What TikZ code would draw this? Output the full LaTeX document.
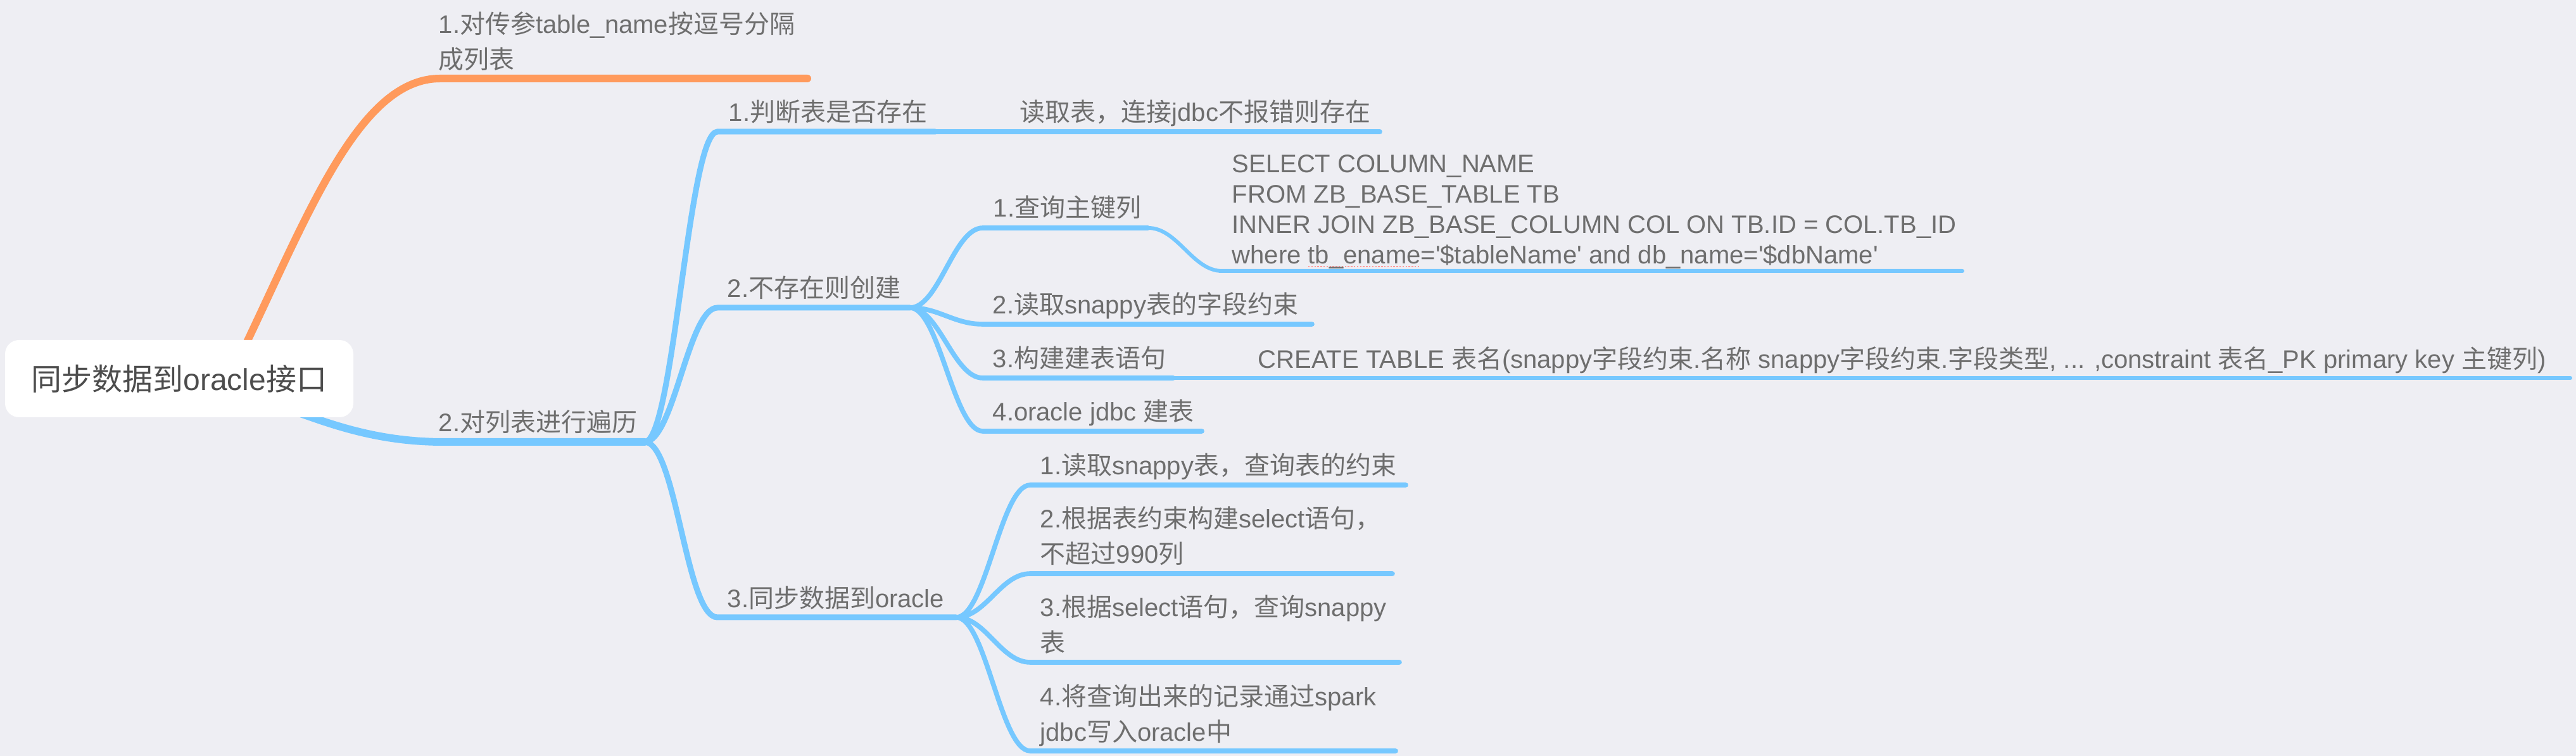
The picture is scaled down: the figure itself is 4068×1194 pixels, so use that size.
\documentclass[tikz,border=0pt]{standalone}
\usepackage{fontspec}
\setmainfont{Liberation Sans}
\newfontfamily\cjk{Noto Sans CJK SC}
\newcommand\zh[1]{{\cjk #1}}
\definecolor{bg}{HTML}{EEEEF3}
\definecolor{tgray}{HTML}{6E6E6E}
\definecolor{rootgray}{HTML}{4D4D4D}
\definecolor{blu}{HTML}{76C8FF}
\definecolor{orng}{HTML}{FF9A5C}
\definecolor{spellred}{HTML}{FF9C9C}
\begin{document}
\begin{tikzpicture}[x=0.25pt,y=-0.25pt,
  lbl/.style={anchor=south west,inner sep=0pt,text depth=0pt,align=left,text=tgray,font=\fontsize{10}{14}\selectfont},
  sqltext/.style={lbl,font=\fontsize{10}{12}\selectfont},
  rootbox/.style={fill=white,rounded corners=5.5pt,minimum width=137.5pt,minimum height=30.5pt,inner sep=0pt,text=rootgray,font=\fontsize{12}{14}\selectfont},
  wA/.style={line width=3pt,line cap=round},
  wB/.style={line width=2.25pt,line cap=round},
  wC/.style={line width=1.9pt,line cap=round},
  wD/.style={line width=1.5pt,line cap=round},
  spell/.style={spellred,line width=0.7pt,dash pattern=on 0.6pt off 0.6pt}]
\fill[bg] (0,0) rectangle (4068,1194);
\useasboundingbox (0,0) rectangle (4068,1194);
% coordinates
\coordinate (rootO) at (390,540);
\coordinate (rootB) at (450,645);
\coordinate (o1s) at (695,124);  \coordinate (o1e) at (1275,124);
\coordinate (b1s) at (700,698);  \coordinate (b1e) at (1018,698);
\coordinate (c1s) at (1133,208); \coordinate (c1e) at (1477,208); \coordinate (c1x) at (2179,208);
\coordinate (c2s) at (1133,486); \coordinate (c2e) at (1437,486);
\coordinate (c3s) at (1133,975); \coordinate (c3e) at (1510,975);
\coordinate (d1s) at (1552,360); \coordinate (d1e) at (1813,360);
\coordinate (d1xs) at (1930,428); \coordinate (d1xe) at (3099,428);
\coordinate (d2s) at (1552,512); \coordinate (d2e) at (2072,512);
\coordinate (d3s) at (1552,597); \coordinate (d3e) at (1853,597); \coordinate (d3x) at (4059,597);
\coordinate (d4s) at (1552,681); \coordinate (d4e) at (1898,681);
\coordinate (e1s) at (1627,766);  \coordinate (e1e) at (2220,766);
\coordinate (e2s) at (1627,906);  \coordinate (e2e) at (2199,906);
\coordinate (e3s) at (1627,1046); \coordinate (e3e) at (2210,1046);
\coordinate (e4s) at (1627,1186); \coordinate (e4e) at (2204,1186);
\coordinate (sp1) at (2066,421); \coordinate (sp2) at (2242,421);
% connectors
\draw[orng,wA] (rootO) .. controls +(100,-210) and +(-125,0) .. (o1s) -- (o1e);
\draw[blu,wA] (rootB) .. controls +(50,15) and +(-120,0) .. (b1s) -- (b1e);
\draw[blu,wB] (b1e) .. controls +(46,0) and +(-46,0) .. (c1s) -- (c1e);
\draw[blu,wC] (c1e) -- (c1x);
\draw[blu,wB] (b1e) .. controls +(46,0) and +(-46,0) .. (c2s) -- (c2e);
\draw[blu,wB] (b1e) .. controls +(50,0) and +(-50,0) .. (c3s) -- (c3e);
\draw[blu,wC] (c2e) .. controls +(46,0) and +(-46,0) .. (d1s) -- (d1e);
\draw[blu,wD] (d1e) .. controls +(47,0) and +(-47,0) .. (d1xs) -- (d1xe);
\draw[blu,wC] (c2e) .. controls +(46,0) and +(-46,0) .. (d2s) -- (d2e);
\draw[blu,wC] (c2e) .. controls +(46,0) and +(-46,0) .. (d3s) -- (d3e);
\draw[blu,wD] (d3e) -- (d3x);
\draw[blu,wC] (c2e) .. controls +(46,0) and +(-46,0) .. (d4s) -- (d4e);
\draw[blu,wC] (c3e) .. controls +(47,0) and +(-47,0) .. (e1s) -- (e1e);
\draw[blu,wC] (c3e) .. controls +(47,0) and +(-47,0) .. (e2s) -- (e2e);
\draw[blu,wC] (c3e) .. controls +(47,0) and +(-47,0) .. (e3s) -- (e3e);
\draw[blu,wC] (c3e) .. controls +(47,0) and +(-47,0) .. (e4s) -- (e4e);
\draw[spell] (sp1) -- (sp2);
% root
\node[rootbox] (root) at (283,598) {\zh{同步数据到}oracle\zh{接口}};
% labels
\node[lbl] (t0) at (692,109) {1.\zh{对传参}table\_name\zh{按逗号分隔}\\\zh{成列表}};
\node[lbl] (tL1) at (692,682) {2.\zh{对列表进行遍历}};
\node[lbl] (tc1) at (1150,192) {1.\zh{判断表是否存在}};
\node[lbl] (tc1x) at (1610,192) {\zh{读取表，连接}jdbc\zh{不报错则存在}};
\node[lbl] (tc2) at (1148,470) {2.\zh{不存在则创建}};
\node[lbl] (tc3) at (1148,960) {3.\zh{同步数据到}oracle};
\node[lbl] (td1) at (1568,343) {1.\zh{查询主键列}};
\node[sqltext] (tsql) at (1945,417) {SELECT COLUMN\_NAME\\FROM ZB\_BASE\_TABLE TB\\INNER JOIN ZB\_BASE\_COLUMN COL ON TB.ID = COL.TB\_ID\\where tb\_ename=\textquotesingle\$tableName\textquotesingle{} and db\_name=\textquotesingle\$dbName\textquotesingle};
\node[lbl] (td2) at (1567,496) {2.\zh{读取}snappy\zh{表的字段约束}};
\node[lbl] (td3) at (1567,581) {3.\zh{构建建表语句}};
\node[lbl] (tcreate) at (1986,582) {CREATE TABLE \zh{表名}(snappy\zh{字段约束}.\zh{名称} snappy\zh{字段约束}.\zh{字段类型}, ... ,constraint \zh{表名}\_PK primary key \zh{主键列})};
\node[lbl] (td4) at (1567,665) {4.oracle jdbc \zh{建表}};
\node[lbl] (te1) at (1642,750) {1.\zh{读取}snappy\zh{表，查询表的约束}};
\node[lbl] (te2) at (1642,890) {2.\zh{根据表约束构建}select\zh{语句，}\\\zh{不超过}990\zh{列}};
\node[lbl] (te3) at (1642,1030) {3.\zh{根据}select\zh{语句，查询}snappy\\\zh{表}};
\node[lbl] (te4) at (1642,1171) {4.\zh{将查询出来的记录通过}spark\\jdbc\zh{写入}oracle\zh{中}};
\end{tikzpicture}
\end{document}
